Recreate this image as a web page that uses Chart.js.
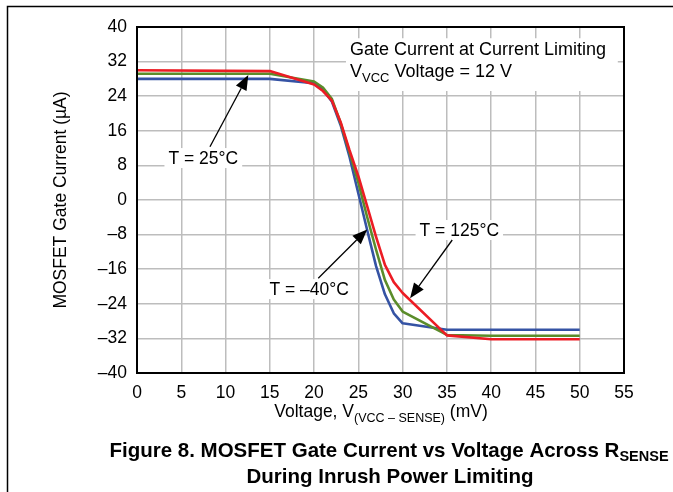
<!DOCTYPE html>
<html><head><meta charset="utf-8">
<script src="https://cdn.jsdelivr.net/npm/chart.js@4"></script>
<style>html,body{margin:0;padding:0;background:#fff;}canvas{display:block}</style>
</head><body>
<canvas id="c" width="673" height="492"></canvas>
<script>
// ---- data ----
const voltages    = [0, 15, 20, 21, 22, 23, 24, 25, 26, 27, 28, 29, 30, 35, 40, 45, 50];
const current125  = [30, 29.8, 26.7, 25.2, 23, 18, 11.5, 5.5, -1.5, -8.5, -15, -19, -21.5, -31.3, -32.2, -32.2, -32.2];
const current25   = [29.2, 29.2, 27.4, 26, 23.4, 17.8, 11, 4, -4, -11.5, -18.5, -23, -25.8, -31.2, -31.4, -31.4, -31.4];
const currentM40  = [28, 28, 27, 25.6, 22.8, 17.3, 10, 1.5, -7, -15.3, -21.8, -26.2, -28.5, -30, -30, -30, -30];
const xTicks      = [0, 5, 10, 15, 20, 25, 30, 35, 40, 45, 50, 55];
const yTicks      = [-40, -32, -24, -16, -8, 0, 8, 16, 24, 32, 40];
const yTickLabels = ['–40', '–32', '–24', '–16', '–8', '0', '8', '16', '24', '32', '40'];

// ---- styling / annotation layout ----
const FONT = "'Liberation Sans', Arial, Helvetica, sans-serif";
const labels = [
  {text: 'T = 25°C',  at: [7.49, 9.7],   from: [8.24, 12.3],  to: [12.57, 28.9]},
  {text: 'T = –40°C', at: [19.45, -20.6], from: [20.47, -18.1], to: [26.0, -6.8]},
  {text: 'T = 125°C', at: [36.4, -6.94],  from: [35.6, -9.25],  to: [30.84, -22.7]}
];
const infoBox = {x1: 23.6, x2: 54.3, y1: 37.4, y2: 25.2, textX: 24.05, line1Y: 33.5, line2Y: 28.5};

function P(chart, v, i) { return [chart.scales.x.getPixelForValue(v), chart.scales.y.getPixelForValue(i)]; }

function runs(ctx, list, x, y, align) {
  let w = 0;
  list.forEach(r => { ctx.font = (r.bold ? 'bold ' : '') + r.size + 'px ' + FONT; r.w = ctx.measureText(r.t).width; w += r.w; });
  let cx = align === 'center' ? x - w / 2 : x;
  ctx.textAlign = 'left'; ctx.textBaseline = 'alphabetic'; ctx.fillStyle = '#000';
  list.forEach(r => { ctx.font = (r.bold ? 'bold ' : '') + r.size + 'px ' + FONT; ctx.fillText(r.t, cx, y + (r.dy || 0)); cx += r.w; });
}

function arrow(ctx, x1, y1, x2, y2) {
  const a = Math.atan2(y2 - y1, x2 - x1), L = 15, W = 6;
  const bx = x2 - L * Math.cos(a), by = y2 - L * Math.sin(a);
  ctx.strokeStyle = '#000'; ctx.fillStyle = '#000'; ctx.lineWidth = 1.3;
  ctx.beginPath(); ctx.moveTo(x1, y1); ctx.lineTo(bx, by); ctx.stroke();
  ctx.beginPath(); ctx.moveTo(x2, y2);
  ctx.lineTo(bx - W * Math.sin(a), by + W * Math.cos(a));
  ctx.lineTo(bx + W * Math.sin(a), by - W * Math.cos(a));
  ctx.closePath(); ctx.fill();
}

const decor = {
  id: 'decor',
  beforeDatasetsDraw(chart) {
    const ctx = chart.ctx; ctx.save();
    ctx.fillStyle = '#fff';
    const [bx1, by1] = P(chart, infoBox.x1, infoBox.y1), [bx2, by2] = P(chart, infoBox.x2, infoBox.y2);
    ctx.fillRect(bx1, by1, bx2 - bx1, by2 - by1);
    ctx.font = '17.5px ' + FONT;
    labels.forEach(l => {
      const [x, y] = P(chart, l.at[0], l.at[1]);
      const w = ctx.measureText(l.text).width + 8;
      ctx.fillRect(x - w / 2, y - 10, w, 20);
    });
    ctx.restore();
  },
  afterDatasetsDraw(chart) {
    const ctx = chart.ctx; ctx.save();
    const ca = chart.chartArea;
    ctx.fillStyle = '#000'; ctx.font = '17.5px ' + FONT;
    ctx.textAlign = 'center'; ctx.textBaseline = 'middle';
    labels.forEach(l => {
      const [x, y] = P(chart, l.at[0], l.at[1]);
      ctx.fillText(l.text, x, y + 1);
      const [fx, fy] = P(chart, l.from[0], l.from[1]), [tx, ty] = P(chart, l.to[0], l.to[1]);
      arrow(ctx, fx, fy, tx, ty);
    });
    const [tx, t1] = P(chart, infoBox.textX, infoBox.line1Y), [, t2] = P(chart, infoBox.textX, infoBox.line2Y);
    runs(ctx, [{t: 'Gate Current at Current Limiting', size: 18}], tx, t1);
    runs(ctx, [{t: 'V', size: 18}, {t: 'VCC', size: 13, dy: 5}, {t: ' Voltage = 12 V', size: 18}], tx, t2);
    ctx.strokeStyle = '#000'; ctx.lineWidth = 2;
    ctx.strokeRect(ca.left, ca.top, ca.right - ca.left, ca.bottom - ca.top);
    ctx.restore();
  },
  afterDraw(chart) {
    const ctx = chart.ctx; ctx.save();
    ctx.strokeStyle = '#000'; ctx.lineWidth = 1.5;
    ctx.beginPath(); ctx.moveTo(7.5, 492); ctx.lineTo(7.5, 6.5); ctx.lineTo(673, 6.5); ctx.stroke();
    runs(ctx, [{t: 'Voltage, V', size: 17.5}, {t: '(VCC – SENSE)', size: 12.5, dy: 5}, {t: ' (mV)', size: 17.5}], 381, 417, 'center');
    ctx.save();
    ctx.translate(66, 200);
    ctx.rotate(-Math.PI / 2);
    ctx.font = '17.5px ' + FONT; ctx.fillStyle = '#000';
    ctx.textAlign = 'center'; ctx.textBaseline = 'alphabetic';
    ctx.fillText('MOSFET Gate Current (µA)', 0, 0);
    ctx.restore();
    runs(ctx, [{t: 'Figure 8. MOSFET Gate Current vs Voltage Across R', size: 20.5, bold: true}, {t: 'SENSE', size: 14.5, bold: true, dy: 4}], 389, 457, 'center');
    runs(ctx, [{t: 'During Inrush Power Limiting', size: 20.5, bold: true}], 390, 483, 'center');
    ctx.restore();
  }
};

const mk = (arr) => voltages.map((v, k) => ({x: v, y: arr[k]}));

new Chart(document.getElementById('c'), {
  type: 'line',
  data: {
    datasets: [
      {label: 'T = 125°C', data: mk(current125), borderColor: '#ec1c24', borderWidth: 2.6, pointRadius: 0, tension: 0, borderJoinStyle: 'round'},
      {label: 'T = 25°C', data: mk(current25), borderColor: '#5b8c2a', borderWidth: 2.6, pointRadius: 0, tension: 0, borderJoinStyle: 'round'},
      {label: 'T = –40°C', data: mk(currentM40), borderColor: '#3553a4', borderWidth: 2.6, pointRadius: 0, tension: 0, borderJoinStyle: 'round'}
    ]
  },
  options: {
    responsive: false, animation: false, devicePixelRatio: 1,
    layout: {padding: {top: 27, right: 49, left: 0, bottom: 0}},
    plugins: {legend: {display: false}, tooltip: {enabled: false}},
    scales: {
      x: {
        type: 'linear', min: 0, max: 55,
        afterBuildTicks: s => { s.ticks = xTicks.map(v => ({value: v})); },
        afterFit: s => { s.height = 119; },
        ticks: {font: {family: FONT, size: 17.5}, color: '#000', padding: 10, maxRotation: 0, autoSkip: false},
        grid: {color: '#bdbdbd', lineWidth: 1.5, drawTicks: false},
        border: {display: false}
      },
      y: {
        type: 'linear', min: -40, max: 40,
        afterBuildTicks: s => { s.ticks = yTicks.map(v => ({value: v})); },
        afterFit: s => { s.width = 137; },
        ticks: {font: {family: FONT, size: 17.5}, color: '#000', padding: 10, autoSkip: false,
                callback: v => yTickLabels[yTicks.indexOf(v)]},
        grid: {color: '#bdbdbd', lineWidth: 1.5, drawTicks: false},
        border: {display: false}
      }
    }
  },
  plugins: [decor]
});
</script>
</body></html>
